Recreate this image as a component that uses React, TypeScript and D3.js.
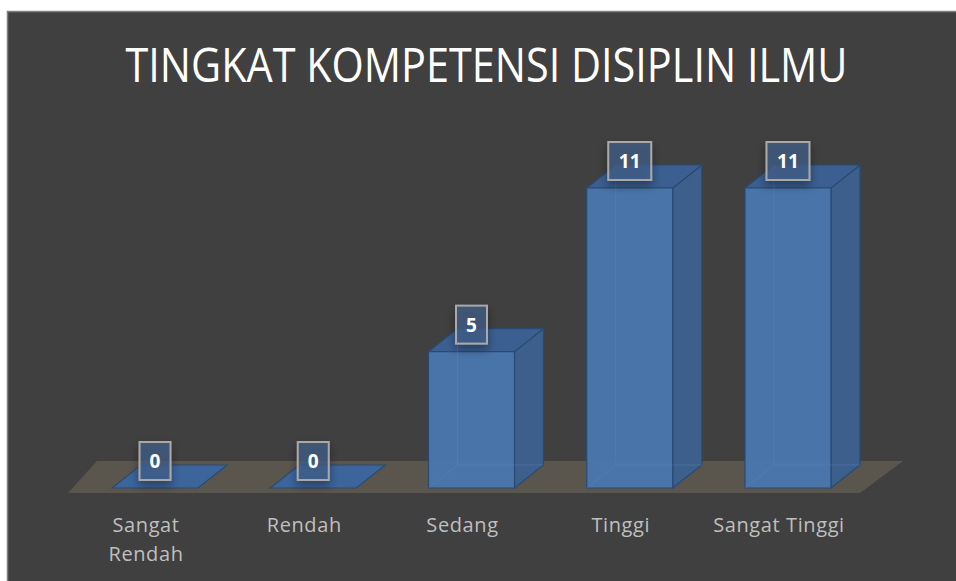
import React from "react";
import * as d3 from "d3";

const categories: string[][] = [["Sangat", "Rendah"], ["Rendah"], ["Sedang"], ["Tinggi"], ["Sangat Tinggi"]];
const values: number[] = [0, 0, 5, 11, 11];
const title = "TINGKAT KOMPETENSI DISIPLIN ILMU";

const W = 956;
const H = 581;
const DX = 29;
const DY = -23;

export default function App() {
  const keys = categories.map((c) => c.join(" "));
  const x = d3.scaleBand<string>().domain(keys).range([75.9, 867.1]).paddingInner(0.4566).paddingOuter(0.2283);
  const y = d3.scaleLinear().domain([0, 11]).range([488, 188]);
  const bw = x.bandwidth();
  const line = d3.line<[number, number]>();
  const poly = (pts: [number, number][]) => line([...pts, pts[0]]) + "Z";

  const floor: [number, number][] = [[68, 493], [860, 493], [903, 461], [97, 461]];

  return (
    <div style={{ position: "absolute", left: 0, top: 0 }}>
      <svg width={W} height={H} style={{ display: "block", background: "#fff" }}>
        <defs>
          <filter id="sh" x="-50%" y="-50%" width="200%" height="220%">
            <feDropShadow dx="0" dy="5" stdDeviation="5" floodColor="#000" floodOpacity="0.45" />
          </filter>
        </defs>
        <rect x={7.5} y={11.5} width={W} height={H} fill="#404040" stroke="#808080" strokeWidth={1.5} />
        <text
          x={486.5}
          y={82}
          textAnchor="middle"
          fontFamily="'Open Sans', sans-serif"
          fontSize={47}
          fill="#ffffff"
          textLength={722}
          lengthAdjust="spacingAndGlyphs"
        >
          {title}
        </text>
        <path d={poly(floor)} fill="#5a564e" />
        {keys.map((k, i) => {
          const x0 = x(k)!;
          const x1 = x0 + bw;
          const yb = y(0);
          const yt = y(values[i]);
          const edge = "#2b4a73";
          if (values[i] === 0) {
            return (
              <path key={k} d={poly([[x0, yb], [x1, yb], [x1 + DX, yb + DY], [x0 + DX, yb + DY]])} fill="#3c659b" stroke={edge} strokeWidth={1.2} />
            );
          }
          return (
            <g key={k}>
              <path d={poly([[x1, yb], [x1 + DX, yb + DY], [x1 + DX, yt + DY], [x1, yt]])} fill="#3d5f8c" stroke={edge} strokeWidth={1.2} />
              <path d={poly([[x0, yt], [x1, yt], [x1 + DX, yt + DY], [x0 + DX, yt + DY]])} fill="#3b5f90" stroke={edge} strokeWidth={1.2} />
              <path d={poly([[x0, yb], [x1, yb], [x1, yt], [x0, yt]])} fill="#4a77ae" fillOpacity={0.96} stroke={edge} strokeWidth={1.2} />
              <g stroke="#5d8ac2" strokeOpacity={0.35} strokeWidth={1} fill="none">
                <path d={line([[x0 + DX, yt + DY], [x0 + DX, yb + DY], [x1 + DX, yb + DY]])!} />
                <path d={line([[x0 + DX, yb + DY], [x0, yb]])!} />
              </g>
            </g>
          );
        })}
        {keys.map((k, i) => {
          const cx = x(k)! + bw / 2;
          const yt = y(values[i]);
          const label = String(values[i]);
          const bwBox = label.length > 1 ? 43 : 31;
          const bh = 38;
          const by = yt - 8 - bh;
          return (
            <g key={"l" + k}>
              <rect x={cx - bwBox / 2} y={by} width={bwBox} height={bh} fill="#45618a" fillOpacity={0.7} stroke="#a9a9a9" strokeWidth={2} filter="url(#sh)" />
              <text x={cx} y={by + bh / 2 + 7} textAnchor="middle" fontFamily="'Open Sans', sans-serif" fontWeight="bold" fontSize={19} fill="#ffffff">
                {label}
              </text>
            </g>
          );
        })}
        {categories.map((lines, i) => {
          const k = keys[i];
          const cx = x(k)! + bw / 2 - 9;
          return (
            <text key={"c" + k} textAnchor="middle" fontFamily="'Open Sans', sans-serif" fontSize={20} letterSpacing={0.6} fill="#bfbfbf">
              {lines.map((ln, j) => (
                <tspan key={j} x={cx} y={532 + j * 29}>
                  {ln}
                </tspan>
              ))}
            </text>
          );
        })}
      </svg>
    </div>
  );
}
